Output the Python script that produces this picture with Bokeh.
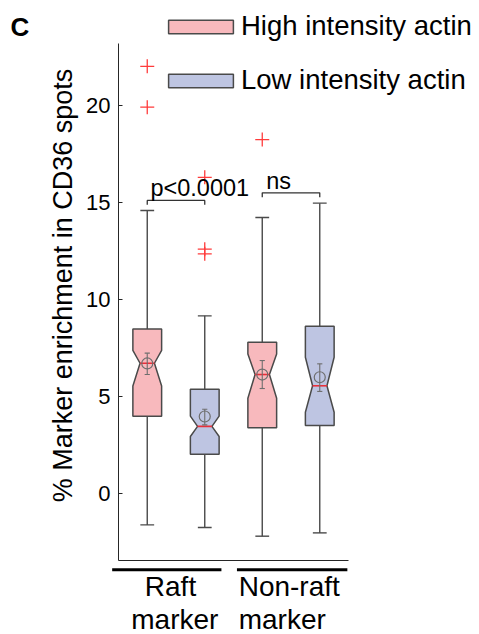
import math
from bokeh.plotting import figure
from bokeh.models import (Range1d, LinearAxis, FixedTicker, Label, Legend, LegendItem)
from bokeh.embed import file_html
from bokeh.resources import INLINE

# ---------------- data ----------------
groups = ["Raft", "Non-raft"]
conditions = ["High intensity actin", "Low intensity actin"]
box_pos = [1, 2, 3, 4]
box_cond = ["High", "Low", "High", "Low"]
q1 = [3.99, 2.04, 3.40, 3.52]
median = [6.72, 3.47, 6.14, 5.56]
q3 = [8.48, 5.38, 7.80, 8.63]
notch_lo = [5.55, 2.95, 4.92, 4.20]
notch_hi = [7.38, 4.00, 7.20, 7.03]
whisk_lo = [-1.60, -1.73, -2.18, -2.01]
whisk_hi = [14.58, 9.16, 14.22, 14.96]
mean_val = [6.71, 3.98, 6.14, 6.00]
mean_lo = [6.14, 3.55, 5.42, 5.27]
mean_hi = [7.24, 4.35, 6.86, 6.69]
outlier_pos = [1, 1, 2, 2, 2, 3]
outlier_val = [22.0, 19.9, 16.29, 12.59, 12.35, 18.23]
pairs = [(1, 2), (3, 4)]
pair_level = [15.10, 15.49]
pair_text = ["p<0.0001", "ns"]
y_ticks = [0, 5, 10, 15, 20]
y_lim = (-3.41, 23.18)
x_lim = (0.5, 4.5)

# ---------------- style ----------------
FONT = "Liberation Sans"
PINK = "#F8B9BD"
BLUE = "#BEC5E2"
EDGE = "#4A4A4A"
RED = "#E8303A"
W = 0.25
NW = 0.5 * W
CAP = 0.12

# the frame fills the whole canvas; axes are pinned at fixed data locations
p = figure(width=479, height=634, output_backend="svg", toolbar_location=None,
           x_range=Range1d(-1.552, 6.778), y_range=Range1d(-7.24, 25.39),
           min_border=0, x_axis_location=None, y_axis_location=None)
p.outline_line_color = None
p.background_fill_color = "white"
p.grid.visible = False

yaxis = LinearAxis(ticker=FixedTicker(ticks=y_ticks), fixed_location=x_lim[0], bounds=y_lim,
                   major_tick_in=4, major_tick_out=0, minor_tick_line_color=None,
                   major_label_standoff=8, major_label_text_font=FONT,
                   major_label_text_font_size="22px", major_label_text_color="black",
                   axis_line_color="#262626", major_tick_line_color="#262626")
p.add_layout(yaxis, "left")
xaxis = LinearAxis(ticker=FixedTicker(ticks=[]), fixed_location=y_lim[0], bounds=x_lim,
                   major_tick_in=0, major_tick_out=0, minor_tick_line_color=None,
                   axis_line_color="#262626")
p.add_layout(xaxis, "below")

# notched boxes
def box_shape(i):
    x = box_pos[i]
    xs = [x - W, x - W, x - NW, x - W, x - W, x + W, x + W, x + NW, x + W, x + W]
    ys = [q1[i], notch_lo[i], median[i], notch_hi[i], q3[i],
          q3[i], notch_hi[i], median[i], notch_lo[i], q1[i]]
    return xs, ys

renderers = {}
for cond, col in (("High", PINK), ("Low", BLUE)):
    idx = [i for i in range(len(box_pos)) if box_cond[i] == cond]
    xs, ys = zip(*[box_shape(i) for i in idx])
    renderers[cond] = p.patches(list(xs), list(ys), fill_color=col, line_color=EDGE,
                                line_width=1.5)

# whiskers
wx = box_pos + box_pos
p.segment(x0=wx, y0=q3 + whisk_lo, x1=wx, y1=whisk_hi + q1, line_color=EDGE, line_width=1.4)
p.segment(x0=[x - CAP for x in box_pos] * 2, y0=whisk_hi + whisk_lo,
          x1=[x + CAP for x in box_pos] * 2, y1=whisk_hi + whisk_lo,
          line_color=EDGE, line_width=1.4)

# medians
p.segment(x0=[x - NW for x in box_pos], y0=median, x1=[x + NW for x in box_pos], y1=median,
          line_color=RED, line_width=1.6)

# mean +- error
MC = "#6E6E6E"
p.segment(x0=box_pos, y0=mean_lo, x1=box_pos, y1=mean_hi, line_color=MC, line_width=1.1)
p.segment(x0=[x - 0.045 for x in box_pos] * 2, y0=mean_lo + mean_hi,
          x1=[x + 0.045 for x in box_pos] * 2, y1=mean_lo + mean_hi,
          line_color=MC, line_width=1.1)
p.scatter(box_pos, mean_val, marker="circle", size=11, fill_color=None,
          line_color=MC, line_width=1.2)

# outliers
p.scatter(outlier_pos, outlier_val, marker="cross", size=14, line_color="#FF3B3B",
          line_width=1.3)

# significance brackets
D = 0.22
bx, by = [], []
for (a, b), lvl in zip(pairs, pair_level):
    bx.append([a, a, b, b])
    by.append([lvl - D, lvl, lvl, lvl - D])
p.multi_line(bx, by, line_color="#333333", line_width=1.3)
p.add_layout(Label(x=pairs[0][0] + 0.056, y=pair_level[0] + 0.66, text=pair_text[0],
                   text_font=FONT, text_font_size="23.5px", text_color="black",
                   text_align="left", text_baseline="alphabetic"))
p.add_layout(Label(x=pairs[1][0] + 0.07, y=pair_level[1] + 0.62, text=pair_text[1],
                   text_font=FONT, text_font_size="23.5px", text_color="black",
                   text_align="left", text_baseline="alphabetic"))

# group underlines and labels (below the x axis)
GY = -3.91
p.segment(x0=[box_pos[0] - 0.61, box_pos[2] - 0.44], y0=[GY, GY],
          x1=[box_pos[1] + 0.29, box_pos[3] + 0.48], y1=[GY, GY],
          line_color="black", line_width=3)
for txt, x, y, al in ((groups[0], 1.404, -4.78, "center"), ("marker", 1.48, -6.49, "center"),
                      (groups[1], 2.59, -4.78, "left"), ("marker", 2.59, -6.49, "left")):
    p.add_layout(Label(x=x, y=y, text=txt, text_font=FONT, text_font_size="28px",
                       text_color="black", text_align=al, text_baseline="alphabetic"))

# y-axis title
p.add_layout(Label(x=-0.457, y=10.72, text="% Marker enrichment in CD36 spots",
                   angle=math.pi / 2, text_font=FONT, text_font_size="27px",
                   text_color="black", text_align="center", text_baseline="middle"))

# panel letter
p.add_layout(Label(x=-1.378, y=24.05, text="C", text_font=FONT, text_font_size="26px",
                   text_font_style="bold", text_color="black", text_align="left",
                   text_baseline="alphabetic"))

legend = Legend(items=[LegendItem(label=conditions[0], renderers=[renderers["High"]]),
                       LegendItem(label=conditions[1], renderers=[renderers["Low"]])],
                location=(160, 538), orientation="vertical", glyph_width=81, glyph_height=17,
                label_standoff=0, spacing=22, padding=0, margin=0, border_line_color=None,
                background_fill_alpha=0, label_text_font=FONT, label_text_font_size="27.5px",
                label_text_color="black", label_height=31)
p.add_layout(legend, "center")

open("out.html", "w").write(file_html(p, INLINE))
